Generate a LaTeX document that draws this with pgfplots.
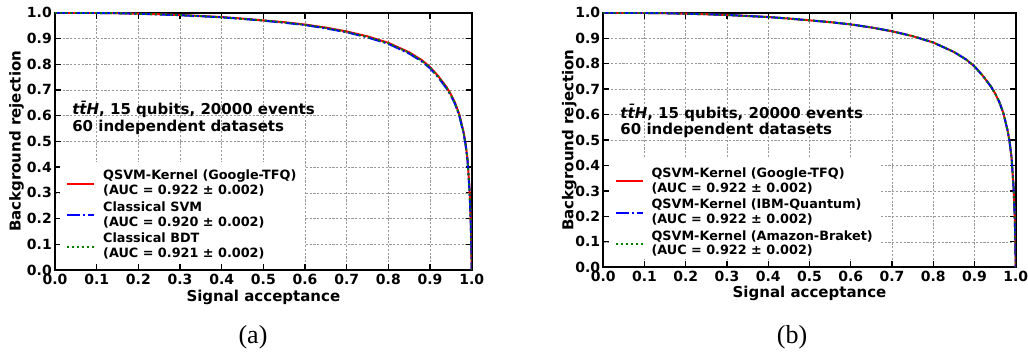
\documentclass[border=0pt]{standalone}
\usepackage{fontspec}
\setmainfont{DejaVu Sans}
\newfontfamily\capfont{Liberation Serif}
\usepackage{pgfplots}
\usepackage{pgfplotstable}
\pgfplotsset{compat=1.18}
\definecolor{mred}{HTML}{FF0000}
\definecolor{mblue}{HTML}{0000FF}
\definecolor{mgreen}{HTML}{008000}
\newcommand{\lgfont}{\bfseries\fontsize{12.8}{14}\selectfont}
\newcommand{\lgone}[1]{\rule[-4.2pt]{0pt}{19.3pt}#1}
\newcommand{\lgtwo}[1]{\rule[-4.2pt]{0pt}{14pt}#1}

% ROC curves (signal acceptance, background rejection)
\pgfplotstableread{
x y
0 1.000
0.05 0.9995
0.1 0.999
0.15 0.998
0.2 0.996
0.25 0.994
0.3 0.991
0.35 0.987
0.4 0.983
0.45 0.977
0.5 0.970
0.55 0.963
0.6 0.954
0.65 0.942
0.7 0.927
0.75 0.908
0.8 0.883
0.85 0.846
0.88 0.816
0.9 0.789
0.92 0.753
0.94 0.710
0.95 0.683
0.96 0.650
0.97 0.606
0.98 0.540
0.985 0.495
0.99 0.430
0.995 0.310
0.998 0.180
0.999 0.100
1.0 0.000
}\qsvm
\pgfplotstableread{
x y
0 1.000
0.05 0.9995
0.1 0.999
0.15 0.998
0.2 0.996
0.25 0.993
0.3 0.990
0.35 0.986
0.4 0.982
0.45 0.976
0.5 0.969
0.55 0.961
0.6 0.952
0.65 0.939
0.7 0.924
0.75 0.904
0.8 0.879
0.85 0.841
0.88 0.811
0.9 0.784
0.92 0.748
0.94 0.705
0.95 0.678
0.96 0.645
0.97 0.600
0.98 0.535
0.985 0.490
0.99 0.425
0.995 0.300
0.998 0.170
0.999 0.090
1.0 0.000
}\svm
\pgfplotstableread{
x y
0 1.000
0.05 0.9995
0.1 0.999
0.15 0.998
0.2 0.996
0.25 0.994
0.3 0.991
0.35 0.987
0.4 0.982
0.45 0.976
0.5 0.970
0.55 0.962
0.6 0.953
0.65 0.941
0.7 0.926
0.75 0.906
0.8 0.881
0.85 0.844
0.88 0.814
0.9 0.787
0.92 0.751
0.94 0.708
0.95 0.681
0.96 0.648
0.97 0.603
0.98 0.538
0.985 0.493
0.99 0.428
0.995 0.305
0.998 0.175
0.999 0.095
1.0 0.000
}\bdt
\pgfplotstableread{
x y
0 1.000
0.05 0.9995
0.1 0.999
0.15 0.998
0.2 0.996
0.25 0.994
0.3 0.991
0.35 0.987
0.4 0.983
0.45 0.977
0.5 0.970
0.55 0.963
0.6 0.954
0.65 0.942
0.7 0.927
0.75 0.908
0.8 0.883
0.85 0.846
0.88 0.816
0.9 0.789
0.92 0.753
0.94 0.710
0.95 0.683
0.96 0.650
0.97 0.606
0.98 0.540
0.985 0.495
0.99 0.430
0.995 0.310
0.998 0.180
0.999 0.100
1.0 0.000
}\ibm
\pgfplotstableread{
x y
0 1.000
0.05 0.9995
0.1 0.999
0.15 0.998
0.2 0.996
0.25 0.994
0.3 0.991
0.35 0.987
0.4 0.983
0.45 0.977
0.5 0.970
0.55 0.963
0.6 0.954
0.65 0.942
0.7 0.927
0.75 0.908
0.8 0.883
0.85 0.846
0.88 0.816
0.9 0.789
0.92 0.753
0.94 0.710
0.95 0.683
0.96 0.650
0.97 0.606
0.98 0.540
0.985 0.495
0.99 0.430
0.995 0.310
0.998 0.180
0.999 0.100
1.0 0.000
}\amazon

\pgfplotsset{
  rocaxis/.style={
    scale only axis,
    anchor=north west,
    xmin=0, xmax=1, ymin=0, ymax=1,
    xtick={0,0.1,0.2,0.3,0.4,0.5,0.6,0.7,0.8,0.9,1.0},
    ytick={0,0.1,0.2,0.3,0.4,0.5,0.6,0.7,0.8,0.9,1.0},
    /pgf/number format/assume math mode=true,
    /pgf/number format/.cd, fixed, fixed zerofill, precision=1, /pgfplots/.cd,
    tick label style={font=\bfseries\fontsize{14}{16}\selectfont},
    xticklabel style={inner ysep=3.5pt},
    yticklabel style={inner xsep=3pt},
    label style={font=\bfseries\fontsize{15}{18}\selectfont},
    tick align=inside,
    major tick length=6pt,
    every tick/.style={black, line width=1.3pt},
    axis line style={line width=2.2pt, black},
    grid=major,
    major grid style={gray!80, line width=0.6pt, dash pattern=on 2.2pt off 1.6pt},
    xlabel={Signal acceptance},
    ylabel={Background rejection},
    legend cell align=left,
    legend image code/.code={\draw[#1] (0pt,-4pt) -- (27pt,-4pt); \path (33pt,0pt);},
    legend style={font=\lgfont, draw=none, fill=white, at={(0,0)}, anchor=south west,
      cells={anchor=base west}, nodes={inner ysep=0pt},
      row sep=0pt, xshift=5pt, yshift=7.8pt, inner xsep=6pt, inner ysep=3pt},
    redline/.style={mred, solid, line width=2pt},
    blueline/.style={mblue, line width=2pt, dash pattern=on 13pt off 3pt on 2pt off 3pt},
    greenline/.style={mgreen, line width=2pt, dash pattern=on 2pt off 3pt},
  }
}

\begin{document}
\begin{tikzpicture}
\useasboundingbox (0,0) rectangle (1028pt,-356pt);

% ---------- panel (a)
\begin{axis}[rocaxis,
  at={(55pt,-12.7pt)}, width=416.7pt, height=257.3pt,
  xlabel style={at={([yshift=-31.7pt]rel axis cs:0.5,0)}, anchor=base},
  ylabel style={at={([xshift=-34.3pt]rel axis cs:0,0.5)}, anchor=base},
]
\addplot[redline] table[x=x,y=y] {\qsvm};
\addlegendentry{\lgone{QSVM-Kernel (Google-TFQ)}}
\addlegendimage{empty legend}
\addlegendentry{\lgtwo{(AUC = 0.922 ± 0.002)}}
\addplot[blueline] table[x=x,y=y] {\svm};
\addlegendentry{\lgone{Classical SVM}}
\addlegendimage{empty legend}
\addlegendentry{\lgtwo{(AUC = 0.920 ± 0.002)}}
\addplot[greenline] table[x=x,y=y] {\bdt};
\addlegendentry{\lgone{Classical BDT}}
\addlegendimage{empty legend}
\addlegendentry{\lgtwo{(AUC = 0.921 ± 0.002)}}
\node[anchor=base west, inner sep=0pt, font=\bfseries\fontsize{15}{17}\selectfont]
  at (rel axis cs:0.041,0.603) {\textit{t\={t}H}, 15 qubits, 20000 events};
\node[anchor=base west, inner sep=0pt, font=\bfseries\fontsize{15}{17}\selectfont]
  at (rel axis cs:0.041,0.537) {60 independent datasets};
\end{axis}

% ---------- panel (b)
\begin{axis}[rocaxis,
  at={(603.3pt,-12.7pt)}, width=412.4pt, height=254.6pt,
  xlabel style={at={([yshift=-30pt]rel axis cs:0.5,0)}, anchor=base},
  ylabel style={at={([xshift=-30pt]rel axis cs:0,0.5)}, anchor=base},
]
\addplot[redline] table[x=x,y=y] {\qsvm};
\addlegendentry{\lgone{QSVM-Kernel (Google-TFQ)}}
\addlegendimage{empty legend}
\addlegendentry{\lgtwo{(AUC = 0.922 ± 0.002)}}
\addplot[blueline] table[x=x,y=y] {\ibm};
\addlegendentry{\lgone{QSVM-Kernel (IBM-Quantum)}}
\addlegendimage{empty legend}
\addlegendentry{\lgtwo{(AUC = 0.922 ± 0.002)}}
\addplot[greenline] table[x=x,y=y] {\amazon};
\addlegendentry{\lgone{QSVM-Kernel (Amazon-Braket)}}
\addlegendimage{empty legend}
\addlegendentry{\lgtwo{(AUC = 0.922 ± 0.002)}}
\node[anchor=base west, inner sep=0pt, font=\bfseries\fontsize{15}{17}\selectfont]
  at (rel axis cs:0.041,0.585) {\textit{t\={t}H}, 15 qubits, 20000 events};
\node[anchor=base west, inner sep=0pt, font=\bfseries\fontsize{15}{17}\selectfont]
  at (rel axis cs:0.041,0.52) {60 independent datasets};
\end{axis}

\node[anchor=base, inner sep=0pt, font=\capfont\fontsize{26}{30}\selectfont] at (253pt,-343pt) {(a)};
\node[anchor=base, inner sep=0pt, font=\capfont\fontsize{26}{30}\selectfont] at (792pt,-343pt) {(b)};
\end{tikzpicture}
\end{document}
